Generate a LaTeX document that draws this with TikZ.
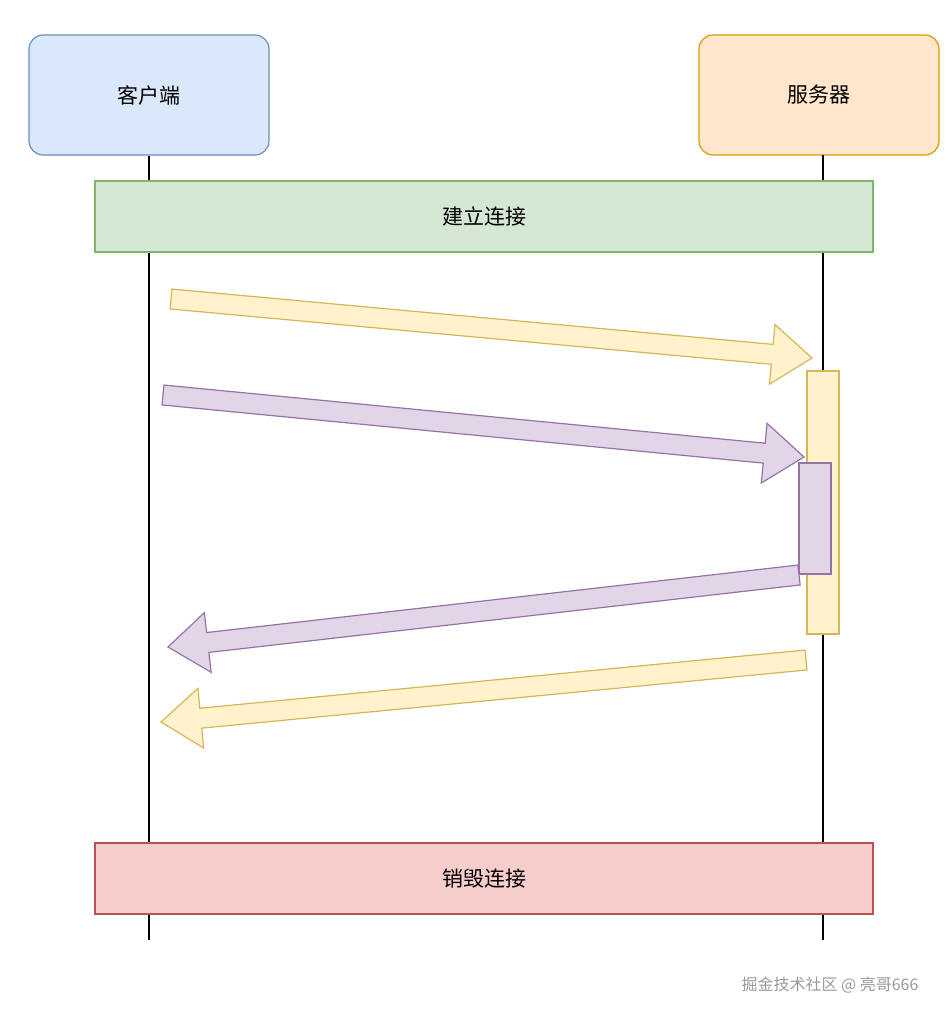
\documentclass[tikz,border=0pt]{standalone}
\usepackage{fontspec}
\setmainfont{Noto Sans CJK SC}
\usetikzlibrary{calc}
\definecolor{bfill}{HTML}{DAE8FC}\definecolor{bline}{HTML}{6C8EBF}
\definecolor{ofill}{HTML}{FFE6CC}\definecolor{oline}{HTML}{D79B00}
\definecolor{gfill}{HTML}{D5E8D4}\definecolor{gline}{HTML}{82B366}
\definecolor{rfill}{HTML}{F8CECC}\definecolor{rline}{HTML}{B85450}
\definecolor{yfill}{HTML}{FFF2CC}\definecolor{yline}{HTML}{D6B656}
\definecolor{pfill}{HTML}{E1D5E7}\definecolor{pline}{HTML}{9673A6}
\newcommand{\fatarrow}[4]{%
  \coordinate (h#1) at ($(#3)!40pt!(#2)$);
  \filldraw[#4,line width=1.2pt,line join=miter]
    ($(#2)!10pt!90:(#3)$) -- ($(h#1)!10pt!-90:(#2)$) -- ($(h#1)!30pt!-90:(#2)$) -- (#3)
    -- ($(h#1)!30pt!90:(#2)$) -- ($(h#1)!10pt!90:(#2)$) -- ($(#2)!10pt!-90:(#3)$) -- cycle;}
\begin{document}
\begin{tikzpicture}[x=1pt,y=-1pt,
  box/.style={draw,line width=1.2pt,minimum width=240pt,minimum height=120pt,rounded corners=14pt,font=\fontsize{21}{25}\selectfont},
  band/.style={draw,line width=1.2pt,minimum width=778pt,minimum height=71pt,font=\fontsize{21}{25}\selectfont},
  life/.style={line width=1.2pt}]
\useasboundingbox (0,0) rectangle (948,1026);
\node[box,fill=bfill,draw=bline] (client) at (149,95) {客户端};
\node[box,fill=ofill,draw=oline] (server) at (819,95) {服务器};
\coordinate (cend) at (149,940); \coordinate (send) at (823,940);
\coordinate (stop) at (823,155);
\draw[life] (client.south) -- (cend);
\draw[life] (stop) -- (send);
\node[band,fill=gfill,draw=gline] (open) at (484,216.5) {建立连接};
\node[band,fill=rfill,draw=rline] (close) at (484,878.5) {销毁连接};
\coordinate (a1) at (171,299); \coordinate (b1) at (812,358);
\coordinate (a2) at (163,395); \coordinate (b2) at (804,457);
\coordinate (a3) at (799,575); \coordinate (b3) at (168,647);
\coordinate (a4) at (806,660); \coordinate (b4) at (161,722);
\fatarrow{1}{a1}{b1}{fill=yfill,draw=yline}
\fatarrow{2}{a2}{b2}{fill=pfill,draw=pline}
\node[draw=yline,fill=yfill,line width=1.2pt,minimum width=32pt,minimum height=263pt,inner sep=0] (act1) at (823,502.5) {};
\node[draw=pline,fill=pfill,line width=1.2pt,minimum width=32pt,minimum height=111pt,inner sep=0] (act2) at (815,518.5) {};
\fatarrow{3}{a3}{b3}{fill=pfill,draw=pline}
\fatarrow{4}{a4}{b4}{fill=yfill,draw=yline}
\node[text=gray!80,font=\fontsize{16}{19}\selectfont,anchor=east] (wm) at (922,985) {掘金技术社区 @ 亮哥666};
\end{tikzpicture}
\end{document}
